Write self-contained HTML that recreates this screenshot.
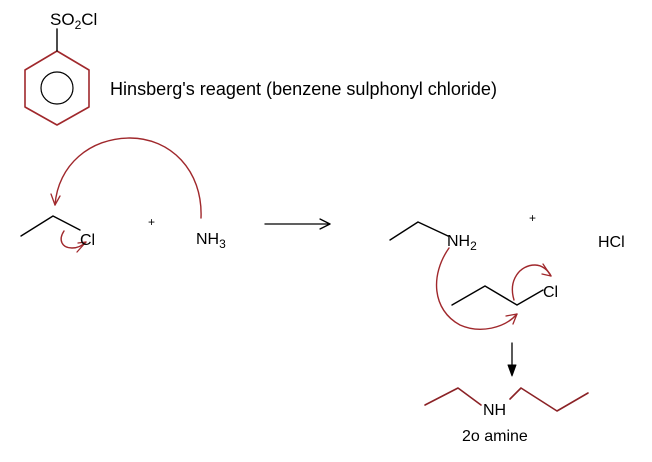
<!DOCTYPE html>
<html><head><meta charset="utf-8"><style>
html,body{margin:0;padding:0;background:#fff;}
svg text{font-family:"Liberation Sans",sans-serif;fill:#000;}
</style></head><body>
<svg width="652" height="457" viewBox="0 0 652 457" xmlns="http://www.w3.org/2000/svg">
<g fill="none" stroke-linecap="round" stroke-linejoin="round">
<polygon points="57,51 89,70 89,107 57,125 25,107 25,70" stroke="#a0282c" stroke-width="1.6"/>
<circle cx="57" cy="88" r="16" stroke="#000" stroke-width="1.2"/>
<line x1="57" y1="51" x2="57" y2="29" stroke="#000" stroke-width="1.4"/>
<polyline points="21,236 53,216 80,230" stroke="#000" stroke-width="1.4"/>
<path d="M201,218 C203,170 170,138 130,138 C90,138 58,165 55,205" stroke="#a0282c" stroke-width="1.4"/>
<path d="M51,194 L55,205 L60,196" stroke="#a0282c" stroke-width="1.3"/>
<path d="M64,231 C58,240 62,248 72,248 C78,248 82,246 86,242" stroke="#a0282c" stroke-width="1.4"/>
<path d="M77,252 L86,242 L78,243" stroke="#a0282c" stroke-width="1.3"/>
<line x1="265" y1="224" x2="330" y2="224" stroke="#000" stroke-width="1.3"/>
<path d="M320,219 L330,224 L320,229" stroke="#000" stroke-width="1.3"/>
<polyline points="390,240 418,222 448,236" stroke="#000" stroke-width="1.4"/>
<polyline points="452,305 485,286 517,305 543,290" stroke="#000" stroke-width="1.4"/>
<path d="M449,248 C430,275 432,310 460,325 C480,334 505,328 517,314" stroke="#a0282c" stroke-width="1.4"/>
<path d="M506,316 L517,314 L513,324" stroke="#a0282c" stroke-width="1.3"/>
<path d="M514,300 C508,280 520,265 535,265 C542,265 548,270 551,276" stroke="#a0282c" stroke-width="1.4"/>
<path d="M543,264 L551,276 L542,274" stroke="#a0282c" stroke-width="1.3"/>
<line x1="512" y1="343" x2="512" y2="366" stroke="#000" stroke-width="1.3"/>
<polygon points="508,365 516,365 512,376" fill="#000" stroke="#000"/>
<polyline points="425,405 458,388 481,405" stroke="#8b2226" stroke-width="1.6"/>
<polyline points="510,399 521,388 557,411 588,393" stroke="#8b2226" stroke-width="1.6"/>
</g>
<text x="50" y="25" font-size="17">SO<tspan font-size="12" dy="4">2</tspan><tspan dy="-4">Cl</tspan></text>
<text x="110" y="95" font-size="18" textLength="387" lengthAdjust="spacingAndGlyphs">Hinsberg's reagent (benzene sulphonyl chloride)</text>
<text x="80" y="245" font-size="16">Cl</text>
<text x="148" y="226" font-size="12">+</text>
<text x="196" y="244" font-size="16">NH<tspan font-size="12" dy="4">3</tspan></text>
<text x="447" y="246" font-size="16">NH<tspan font-size="12" dy="4">2</tspan></text>
<text x="529" y="222" font-size="12">+</text>
<text x="598" y="247" font-size="16">HCl</text>
<text x="543" y="297" font-size="16">Cl</text>
<text x="483" y="415" font-size="16">NH</text>
<text x="462" y="441" font-size="16">2o amine</text>
</svg>
</body></html>
